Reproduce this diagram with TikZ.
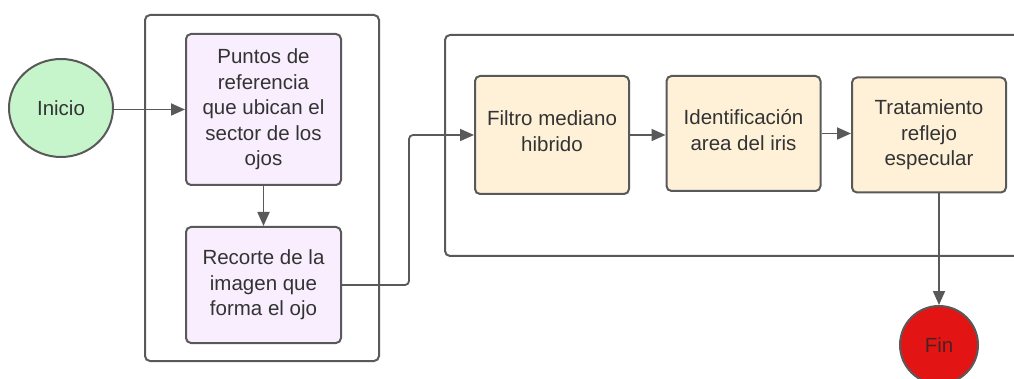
\documentclass[tikz,border=0pt]{standalone}
\usepackage{fontspec}
\setmainfont{Liberation Sans}
\usetikzlibrary{arrows.meta,calc,shapes.geometric}
\definecolor{edge}{HTML}{595959}
\definecolor{txt}{HTML}{333333}
\definecolor{startfill}{HTML}{C6F5CB}
\definecolor{lavfill}{HTML}{F8EEFE}
\definecolor{creamfill}{HTML}{FEF1D8}
\definecolor{endfill}{HTML}{E31414}
\definecolor{endtxt}{HTML}{4A2222}
\tikzset{
  container/.style={draw=edge,line width=2pt,rounded corners=5pt},
  procbox/.style={draw=edge,line width=2pt,rounded corners=5pt,align=center,text=txt,
    font=\fontsize{20.5}{25.5}\selectfont,inner sep=0pt},
  lav/.style={procbox,fill=lavfill,minimum width=155pt},
  cream/.style={procbox,fill=creamfill,minimum width=154pt},
  term/.style={draw=edge,line width=2pt,text=txt,font=\fontsize{20.5}{25.5}\selectfont},
  conn/.style={draw=edge,line width=1.8pt,-{Triangle[length=14pt,width=12pt]}},
}
\begin{document}
\begin{tikzpicture}[x=1pt,y=-1pt]
\useasboundingbox (0,0) rectangle (1014,379);
% containers
\draw[container] (145,15) rectangle (379,361);
\draw[container] (445,35) rectangle (1030,256);
% nodes
\node[term,ellipse,fill=startfill,minimum width=104pt,minimum height=98pt,inner sep=0pt] (ini) at (61,108) {Inicio};
\node[lav,minimum height=151pt] (b1) at (263.5,109.5) {Puntos de\\referencia\\que ubican el\\sector de los\\ojos};
\node[lav,minimum height=116pt] (b2) at (263.5,285) {Recorte de la\\imagen que\\forma el ojo};
\node[cream,minimum height=118pt] (f) at (552,135) {Filtro mediano\\hibrido\\[-18pt]};
\node[cream,minimum height=115pt] (id) at (743.5,133.5) {Identificación\\area del iris\\[-18pt]};
\node[cream,minimum height=115pt] (t) at (929,135) {Tratamiento\\reflejo\\especular};
\node[term,circle,fill=endfill,text=endtxt,minimum size=78pt,inner sep=0pt] (fin) at (939,345) {Fin};
% connectors
\draw[conn] (ini.east |- b1.west) -- (b1.west);
\draw[conn] (b1.south) -- (b2.north);
\coordinate (bend) at (409,0);
\draw[conn,rounded corners=4pt] (b2.east) -- (bend |- b2.east) -- (bend |- f.west) -- (f.west);
\draw[conn] (f.east) -- (id.west |- f.east);
\draw[conn] (id.east) -- (t.west |- id.east);
\draw[conn] (fin.north |- t.south) -- (fin.north);
\end{tikzpicture}
\end{document}
